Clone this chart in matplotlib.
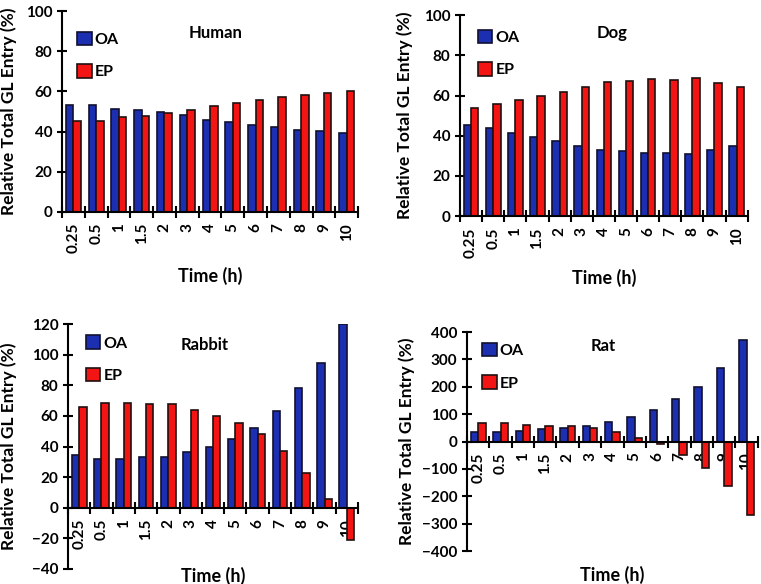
import numpy as np
import matplotlib
matplotlib.use('Agg')
import matplotlib.pyplot as plt

plt.rcParams['font.family'] = ['Lato', 'DejaVu Sans']
plt.rcParams['font.weight'] = 'bold'
plt.rcParams['axes.labelweight'] = 'bold'

times = ['0.25', '0.5', '1', '1.5', '2', '3', '4', '5', '6', '7', '8', '9', '10']

human_oa = [53.5, 53.5, 51.5, 51, 50, 48.5, 46, 45, 43.5, 42.5, 41, 40.5, 39.5]
human_ep = [45.5, 45.5, 47.5, 48, 49.5, 51, 53, 54.5, 55.5, 57, 58, 59, 60]

dog_oa = [45.5, 44, 41.5, 39.5, 37.5, 35, 33, 32.5, 31.5, 31.5, 31, 33, 35]
dog_ep = [54, 56, 58, 60, 62, 64.5, 66.5, 67, 68, 67.5, 68.5, 66, 64.5]

rabbit_oa = [34.5, 32, 32, 33, 33.5, 36.5, 40, 45, 52, 63.5, 78, 94.5, 120]
rabbit_ep = [66, 68.5, 68.5, 68, 67.5, 64, 60, 55.5, 48, 37, 22.5, 6, -21]

rat_oa = [36, 36, 40, 44, 48, 57, 72, 90, 114, 154, 200, 267, 372]
rat_ep = [66, 66, 61, 57, 57, 48, 34, 14, -9, -48, -97, -164, -270]

BLUE = '#1c2fb0'
RED = '#f31414'

# (name, oa, ep, axes rect, ylim, yticks, title pos, legend anchor, ylabel x, xlabel y)
panels = [
    ('Human', human_oa, human_ep, [0.0815, 0.637, 0.389, 0.344], (0, 100), np.arange(0, 101, 20),
     (0.52, 0.89), (0.03, 0.93), -0.152, -0.274),
    ('Dog', dog_oa, dog_ep, [0.6045, 0.630, 0.378, 0.344], (0, 100), np.arange(0, 101, 20),
     (0.53, 0.91), (0.04, 0.96), -0.163, -0.264),
    ('Rabbit', rabbit_oa, rabbit_ep, [0.0894, 0.0257, 0.381, 0.4193], (-40, 120), np.arange(-40, 121, 20),
     (0.47, 0.914), (0.04, 0.98), -0.176, 0.008),
    ('Rat', rat_oa, rat_ep, [0.6137, 0.0565, 0.382, 0.375], (-400, 400), np.arange(-400, 401, 100),
     (0.47, 0.936), (0.03, 0.98), -0.179, -0.068),
]

fig = plt.figure(figsize=(7.61, 5.84), dpi=100)

x = np.arange(len(times))
w = 0.33

for name, oa, ep, rect, ylim, yticks, tpos, lpos, ylx, xly in panels:
    ax = fig.add_axes(rect)
    ax.set_axisbelow(True)
    ax.bar(x - w / 2, oa, w, color=BLUE, edgecolor='#101030', linewidth=1.2, label='OA')
    ax.bar(x + w / 2, ep, w, color=RED, edgecolor='#201010', linewidth=1.2, label='EP')

    ax.set_xlim(-0.5, len(times) - 0.5)
    ax.set_ylim(*ylim)
    ax.set_yticks(yticks)
    ax.tick_params(axis='y', direction='inout', length=7, width=1.5, labelsize=11)

    # boundaries get tick marks, centres get the labels
    ax.set_xticks(np.arange(-0.5, len(times), 1))
    ax.set_xticklabels([])
    ax.set_xticks(x, minor=True)
    ax.set_xticklabels(times, minor=True)
    ax.tick_params(axis='x', which='major', direction='inout', length=9, width=1.5)
    ax.tick_params(axis='x', which='minor', length=0, pad=8, labelrotation=90, labelsize=11)

    ax.spines['top'].set_visible(False)
    ax.spines['right'].set_visible(False)
    ax.spines['left'].set_linewidth(1.5)
    ax.spines['bottom'].set_linewidth(1.5)
    ax.spines['bottom'].set_position(('data', 0))

    ax.text(tpos[0], tpos[1], name, transform=ax.transAxes, ha='center', va='center', fontsize=12)
    ax.legend(loc='upper left', bbox_to_anchor=lpos, frameon=False, fontsize=11.5,
              handlelength=0.9, handleheight=0.9, handletextpad=0.2, labelspacing=1.1,
              borderaxespad=0)

    ax.set_ylabel('Relative Total GL Entry (%)', fontsize=12.5)
    ax.yaxis.set_label_coords(ylx, 0.5)
    ax.set_xlabel('Time (h)', fontsize=13)
    ax.xaxis.set_label_coords(0.5, xly)

fig.savefig('out.png', dpi=100)
